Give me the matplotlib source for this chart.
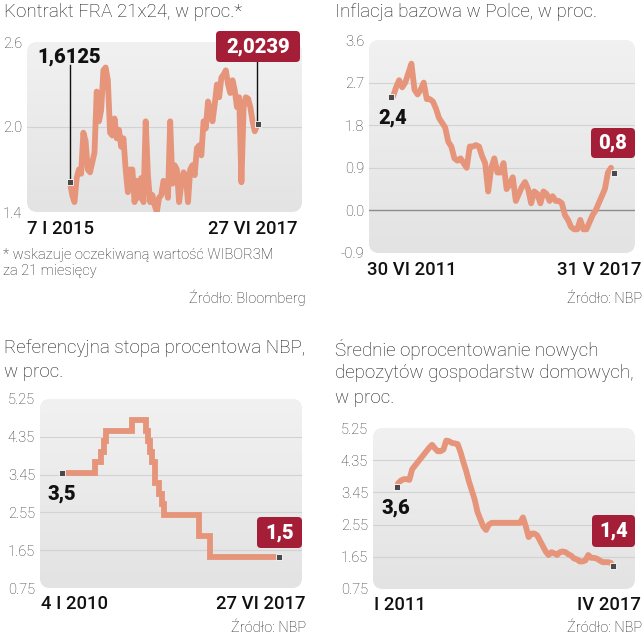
import matplotlib
matplotlib.use("Agg")
import matplotlib.pyplot as plt
import matplotlib.dates as mdates
import matplotlib.transforms as mtransforms
from matplotlib.patches import FancyBboxPatch
import numpy as np
import pandas as pd

W, H = 643, 640
plt.rcParams['font.family'] = ['Roboto', 'DejaVu Sans']

LINE = '#e6957a'
RED = '#a41e37'
MARK = '#4a4a4a'

# ---------------- data ----------------
# Panel 1: FRA 21x24 (7 I 2015 - 27 VI 2017)
fra_start, fra_end = '2015-01-07', '2017-06-27'
fra_values = [1.61, 1.52, 1.47, 1.64, 1.70, 1.67, 1.96, 1.90, 1.70, 1.68,
              1.75, 1.82, 2.25, 2.04, 2.12, 2.40, 2.42, 2.33, 1.96, 1.94,
              2.06, 1.92, 1.98, 1.86, 1.92, 1.70, 1.54, 1.70, 1.70, 1.47,
              1.62, 1.50, 1.64, 1.47, 2.04, 1.66, 1.47, 1.52, 1.45, 1.40,
              1.50,
              1.52, 1.62, 1.60, 1.50, 2.04, 1.60, 1.73, 1.70, 1.47, 1.60,
              1.68, 1.66, 1.47, 1.70, 1.73, 1.66, 1.85, 1.87, 1.80, 2.04,
              1.99, 2.18, 2.12, 2.04, 2.16, 2.30, 2.21, 2.35, 2.37, 2.40,
              2.30, 2.24, 2.33, 2.26, 2.14, 2.21, 1.61, 2.14, 2.21, 2.20,
              2.14, 2.04, 1.97, 2.01]
fra_first, fra_last = 1.6125, 2.0239

# Panel 2: core inflation (VI 2011 - V 2017), monthly
infl_start, infl_end = '2011-06-30', '2017-05-31'
infl_values = [2.40, 2.60, 2.75, 2.60, 2.70, 2.90, 3.10, 2.55, 2.45, 2.55,
               2.70, 2.35, 2.35, 2.30, 2.15, 1.95, 1.85, 1.75, 1.45, 1.35,
               1.10, 1.05, 1.10, 1.00, 0.90, 1.35, 1.35, 1.38, 1.35, 1.15,
               1.00, 0.40, 0.90, 1.10, 0.80, 0.80, 1.00, 0.45, 0.55, 0.70,
               0.20, 0.35, 0.50, 0.60, 0.45, 0.15, 0.40, 0.35, 0.15, 0.40,
               0.35, 0.20, 0.30, 0.20, 0.20, 0.15, -0.10, -0.20, -0.35, -0.40,
               -0.40, -0.20, -0.40, -0.40, -0.25, -0.10, 0.00, 0.15, 0.30, 0.45,
               0.80, 0.90]
infl_first, infl_last = 2.4, 0.8

# Panel 3: NBP reference rate (4 I 2010 - 27 VI 2017), change dates
ref_dates = ['2010-01-04', '2011-01-20', '2011-04-06', '2011-05-12', '2011-06-09',
             '2012-05-10', '2012-11-08', '2012-12-06', '2013-01-10', '2013-02-07',
             '2013-03-07', '2013-05-09', '2013-06-06', '2013-07-04', '2014-10-09',
             '2015-03-05', '2017-06-27']
ref_values = [3.50, 3.75, 4.00, 4.25, 4.50, 4.75, 4.50, 4.25, 4.00, 3.75,
              3.25, 3.00, 2.75, 2.50, 2.00, 1.50, 1.50]
ref_first, ref_last = 3.5, 1.5

# Panel 4: average rate on new household deposits (I 2011 - IV 2017), monthly
dep_start, dep_end = '2011-01-01', '2017-04-01'
dep_values = [3.70, 3.78, 3.82, 3.82, 3.80, 4.10, 4.20, 4.30, 4.40, 4.50,
              4.60, 4.70, 4.78, 4.68, 4.60, 4.60, 4.65, 4.90, 4.88, 4.83,
              4.82, 4.80, 4.58, 4.30, 4.05, 3.75, 3.50, 3.25, 2.90, 2.70,
              2.50, 2.40, 2.55, 2.60, 2.60, 2.60, 2.60, 2.60, 2.60, 2.60,
              2.60, 2.60, 2.60, 2.60, 2.75, 2.50, 2.20, 2.30, 2.30, 2.25,
              2.10, 1.95, 1.80, 1.70, 1.78, 1.75, 1.70, 1.78, 1.80, 1.78,
              1.72, 1.68, 1.60, 1.58, 1.52, 1.52, 1.55, 1.70, 1.62, 1.62,
              1.60, 1.55, 1.50, 1.50, 1.50, 1.48]
dep_first, dep_last = 3.6, 1.4

# ---------------- figure ----------------
fig = plt.figure(figsize=(W / 100, H / 100), dpi=100)
fig.patch.set_facecolor('white')


def T(x, y, s, **kw):
    kw.setdefault('va', 'center')
    kw.setdefault('color', '#222222')
    return fig.text(x / W, 1 - y / H, s, **kw)


def make_axes(box, ylim, yticks, ticklabels, dates, data_px, grid, zero=None):
    x0, y0, x1, y1 = box
    ax = fig.add_axes([x0 / W, 1 - y1 / H, (x1 - x0) / W, (y1 - y0) / H])
    ax.set_facecolor('none')
    for s in ax.spines.values():
        s.set_visible(False)
    patch = FancyBboxPatch((0, 0), 1, 1, boxstyle='round,pad=0,rounding_size=0.04',
                           transform=ax.transAxes, fc='#ebebeb', ec='none',
                           zorder=0, mutation_aspect=(x1 - x0) / (y1 - y0))
    ax.add_patch(patch)
    grad = np.linspace(0, 1, 64).reshape(-1, 1)
    im = ax.imshow(grad, extent=[0, 1, 0, 1], transform=ax.transAxes,
                   cmap=matplotlib.colors.LinearSegmentedColormap.from_list(
                       'g', ['#f1f1f1', '#e3e3e3']),
                   aspect='auto', zorder=0.5, origin='upper')
    im.set_clip_path(patch)
    d0 = mdates.date2num(dates[0])
    d1 = mdates.date2num(dates[-1])
    p0, p1 = data_px
    s = (d1 - d0) / (p1 - p0)
    ax.set_xlim(d0 - (p0 - x0) * s, d1 + (x1 - p1) * s)
    ax.set_ylim(*ylim)
    ax.set_xticks([])
    ax.set_yticks(yticks)
    ax.set_yticklabels(ticklabels)
    ax.tick_params(axis='y', length=0, pad=3.5, labelsize=10.5, labelcolor='#333333')
    for lab in ax.get_yticklabels():
        lab.set_fontweight('light')
    for g in grid:
        ax.axhline(g, color='#d2d2d2', lw=0.8, zorder=1)
    if zero is not None:
        ax.axhline(zero, color='#8c8c8c', lw=1.0, zorder=1)
    return ax


def marker(ax, x, y, dx):
    off = mtransforms.offset_copy(ax.transData, fig=fig, x=dx, y=0, units='dots')
    ax.plot([x], [y], marker='s', ms=4.2, color=MARK, mec='white', mew=0.6,
            transform=off, zorder=5, clip_on=False)


def red_label(cx, cy, w, h, s):
    box = FancyBboxPatch(((cx - w / 2) / W, 1 - (cy + h / 2) / H), w / W, h / H,
                         boxstyle='round,pad=0,rounding_size=%f' % (4.0 / W),
                         transform=fig.transFigure, fc=RED, ec='none',
                         mutation_aspect=W / H)
    fig.add_artist(box)
    T(cx, cy + 0.5, s, ha='center', color='white', fontsize=14.5, fontweight='black')


def black_label(x, y, s):
    T(x, y, s, ha='center', color='#111111', fontsize=14.5, fontweight='black')


TITLE = dict(fontsize=13.5, fontweight='light', ha='left', color='#1a1a1a')
DATE = dict(fontsize=13.3, fontweight='medium', color='#111111')
SRC = dict(fontsize=10.5, fontweight='light', ha='right', color='#222222')
LW = 4.2

# ---- Panel 1 ----
fra_dates = pd.date_range(fra_start, fra_end, periods=len(fra_values))
ax1 = make_axes((27, 42, 302, 212), (1.4, 2.6), [1.4, 2.0, 2.6],
                ['1.4', '2.0', '2.6'], fra_dates, (70, 257), grid=[2.0])
ax1.plot(fra_dates, fra_values, color=LINE, lw=LW, solid_joinstyle='round',
         solid_capstyle='round', zorder=3)
ax1.plot([fra_dates[0]] * 2, [fra_first, 2.44], color='#111111', lw=1.0, zorder=4,
         clip_on=False)
ax1.plot([fra_dates[-1]] * 2, [fra_last, 2.47], color='#111111', lw=1.0, zorder=4,
         clip_on=False)
marker(ax1, fra_dates[0], fra_first, 0)
marker(ax1, fra_dates[-1], fra_last, 1)
T(4, 12, 'Kontrakt FRA 21x24, w proc.*', **TITLE)
black_label(69, 57, '1,6125')
red_label(258, 46.5, 84, 31, '2,0239')
T(27, 229, '7 I 2015', ha='left', **DATE)
T(298, 229, '27 VI 2017', ha='right', **DATE)
T(3, 255, '* wskazuje oczekiwaną wartość WIBOR3M', fontsize=10.5, fontweight='light')
T(3, 271, 'za 21 miesięcy', fontsize=10.5, fontweight='light')
T(306, 298, 'Źródło: Bloomberg', **SRC)

# ---- Panel 2 ----
infl_dates = pd.date_range(infl_start, infl_end, periods=len(infl_values))
ticks2 = [-0.9, 0.0, 0.9, 1.8, 2.7, 3.6]
ax2 = make_axes((369, 40, 635, 253), (-0.9, 3.6), ticks2,
                [f'{t:.1f}' for t in ticks2], infl_dates, (393, 611),
                grid=[0.9, 1.8, 2.7], zero=0.0)
ax2.plot(infl_dates, infl_values, color=LINE, lw=LW, solid_joinstyle='round',
         solid_capstyle='round', zorder=3)
marker(ax2, infl_dates[0], infl_first, -2)
marker(ax2, infl_dates[-1], infl_last, 3)
T(335, 12, 'Inflacja bazowa w Polce, w proc.', **TITLE)
black_label(393, 118, '2,4')
red_label(613, 143, 44, 30, '0,8')
T(367, 270, '30 VI 2011', ha='left', **DATE)
T(641, 270, '31 V 2017', ha='right', **DATE)
T(642, 299, 'Źródło: NBP', **SRC)

# ---- Panel 3 ----
ref_d = pd.to_datetime(ref_dates)
ticks34 = [0.75, 1.65, 2.55, 3.45, 4.35, 5.25]
ax3 = make_axes((40, 399, 302, 588), (0.75, 5.25), ticks34,
                [f'{t:.2f}' for t in ticks34], ref_d, (66, 275),
                grid=[1.65, 2.55, 3.45, 4.35])
ax3.plot(ref_d, ref_values, drawstyle='steps-post', color=LINE, lw=LW,
         solid_joinstyle='miter', zorder=3)
marker(ax3, ref_d[0], ref_first, -4)
marker(ax3, ref_d[-1], ref_last, 4)
T(4, 348, 'Referencyjna stopa procentowa NBP,', **TITLE)
T(4, 372, 'w proc.', **TITLE)
black_label(62, 494, '3,5')
red_label(279.5, 532.5, 45, 31, '1,5')
T(41, 604, '4 I 2010', ha='left', **DATE)
T(306, 604, '27 VI 2017', ha='right', **DATE)
T(306, 628, 'Źródło: NBP', **SRC)

# ---- Panel 4 ----
dep_dates = pd.date_range(dep_start, dep_end, periods=len(dep_values))
ax4 = make_axes((373, 428, 635, 589), (0.75, 5.25), ticks34,
                [f'{t:.2f}' for t in ticks34], dep_dates, (398, 611),
                grid=[1.65, 2.55, 3.45, 4.35])
ax4.plot(dep_dates, dep_values, color=LINE, lw=LW, solid_joinstyle='round',
         solid_capstyle='round', zorder=3)
marker(ax4, dep_dates[0], dep_first, -1)
marker(ax4, dep_dates[-1], dep_last, 2)
T(335, 349, 'Średnie oprocentowanie nowych', **TITLE)
T(335, 373, 'depozytów gospodarstw domowych,', **TITLE)
T(335, 398, 'w proc.', **TITLE)
black_label(396, 508, '3,6')
red_label(613.5, 531, 43, 32, '1,4')
T(374, 605, 'I 2011', ha='left', **DATE)
T(641, 605, 'IV 2017', ha='right', **DATE)
T(642, 628, 'Źródło: NBP', **SRC)

fig.savefig('out.png', dpi=100, facecolor='white')
